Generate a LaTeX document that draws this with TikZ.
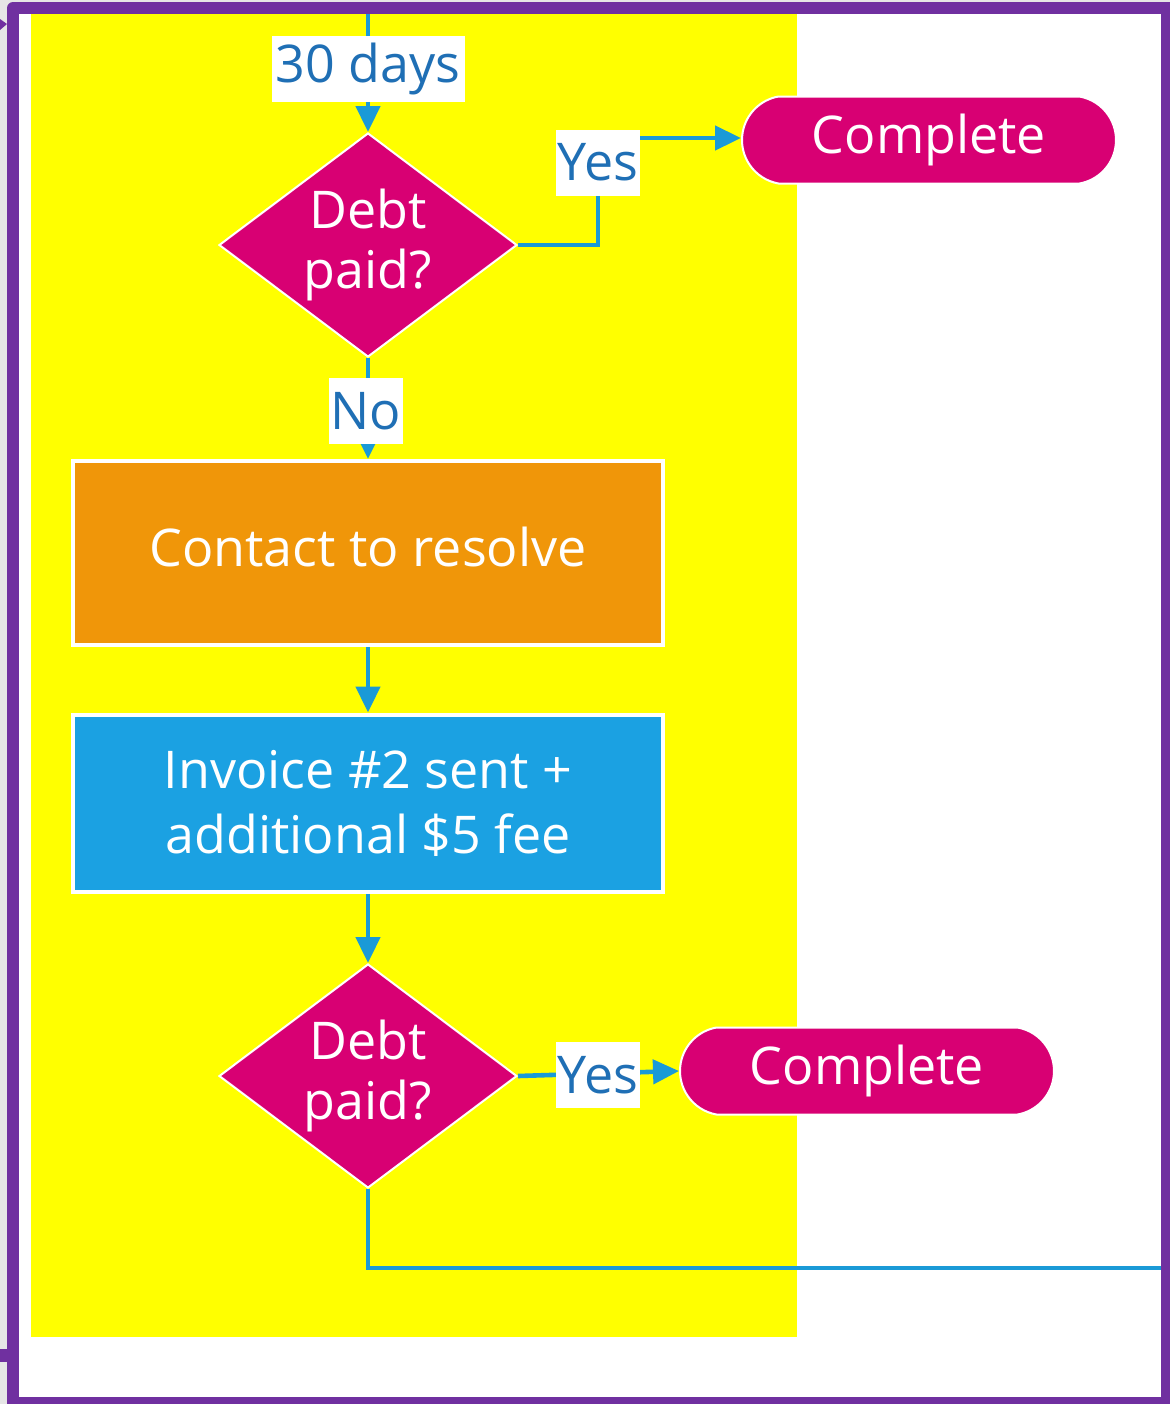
\documentclass[tikz,border=0pt]{standalone}
\usepackage{fontspec}
\setmainfont{Open Sans}
\usetikzlibrary{shapes.geometric,shapes.misc,arrows.meta}
\pgfdeclarelayer{back}
\pgfdeclarelayer{lines}
\pgfsetlayers{back,lines,main}

\definecolor{pagegrey}{HTML}{E6E6E6}
\definecolor{framec}{HTML}{7030A0}
\definecolor{laneyellow}{HTML}{FFFF00}
\definecolor{magentac}{HTML}{D80073}
\definecolor{orangec}{HTML}{F09609}
\definecolor{bluebox}{HTML}{1BA1E2}
\definecolor{lineblue}{HTML}{1A9AD7}
\definecolor{lbltext}{HTML}{1F6FB5}

\begin{document}
\begin{tikzpicture}[x=0.5pt,y=-0.5pt,
  txt/.style={font=\fontsize{26}{30}\selectfont, text=white},
  decision/.style={txt, shape=diamond, aspect=1.33, fill=magentac, draw=white,
    line width=1pt, inner sep=0pt, minimum width=149pt, minimum height=112pt, align=center},
  terminal/.style={txt, shape=rounded rectangle, rounded rectangle arc length=160,
    fill=magentac, draw=white, line width=1pt, minimum width=187pt, minimum height=43.5pt,
    inner xsep=0pt, text width=150pt, align=center},
  process/.style={txt, shape=rectangle, draw=white, line width=2pt,
    minimum width=295pt, align=center},
  lbl/.style={font=\fontsize{26}{30}\selectfont, text=lbltext, fill=white,
    inner xsep=1pt, inner ysep=0pt, minimum height=33pt},
  conn/.style={draw=lineblue, line width=2.3pt},
  arr/.style={-{Triangle[length=13pt,width=12pt]}}]
\useasboundingbox (0,0) rectangle (1170,1404);

% flowchart shapes
\node[decision] (dia1) at (368,245) {Debt\\paid?};
\node[process, fill=orangec, minimum height=92pt, text depth=6pt] (rect1) at (368,553) {Contact to resolve};
\node[process, fill=bluebox, minimum height=88.5pt,
  font=\fontsize{26}{32.5}\selectfont] (rect2) at (368,803) {Invoice \#2 sent +\\additional \$5 fee};
\node[decision] (dia2) at (368,1076) {Debt\\paid?};
\node[terminal] (comp1) at (929,140) {Complete};
\node[terminal] (comp2) at (867,1071) {Complete};

% connector labels
\node[lbl, minimum width=96.5pt] (l30) at (368,68.5) {30 days};
\node[lbl] (ly1) at (598,162.5) {Yes};
\node[lbl] (lno) at (366,411) {No};
\node[lbl] (ly2) at (598,1075) {Yes};

\coordinate (top) at (368,14);
\coordinate (exit) at (1161,1268);

% connectors
\begin{pgfonlayer}{lines}
  \draw[conn,arr] (top) -- (dia1.north);
  \draw[conn,arr] (dia1.east) -| (ly1.center) |- ([yshift=1pt]comp1.west);
  \draw[conn,arr] (dia1.south) -- (rect1.north);
  \draw[conn,arr] (rect1.south) -- (rect2.north);
  \draw[conn,arr] (rect2.south) -- (dia2.north);
  \draw[conn,arr] (dia2.east) -- (comp2.west);
  \draw[conn] (dia2.south) |- (exit);
\end{pgfonlayer}

% page, frame and lane
\begin{pgfonlayer}{back}
  \fill[pagegrey] (0,0) rectangle (1170,1404);
  \begin{scope}
    \clip (0,0) rectangle (1170,1404);
    \fill[framec, rounded corners=3pt] (7,2) rectangle (1185,1420);
  \end{scope}
  \fill[framec] (0,19) -- (7,24) -- (0,30) -- cycle;
  \fill[framec] (0,1349) rectangle (7,1362);
  \fill[white] (19,14) rectangle (1161,1397);
  \fill[laneyellow] (31,14) rectangle (797,1337);
\end{pgfonlayer}
\end{tikzpicture}
\end{document}
